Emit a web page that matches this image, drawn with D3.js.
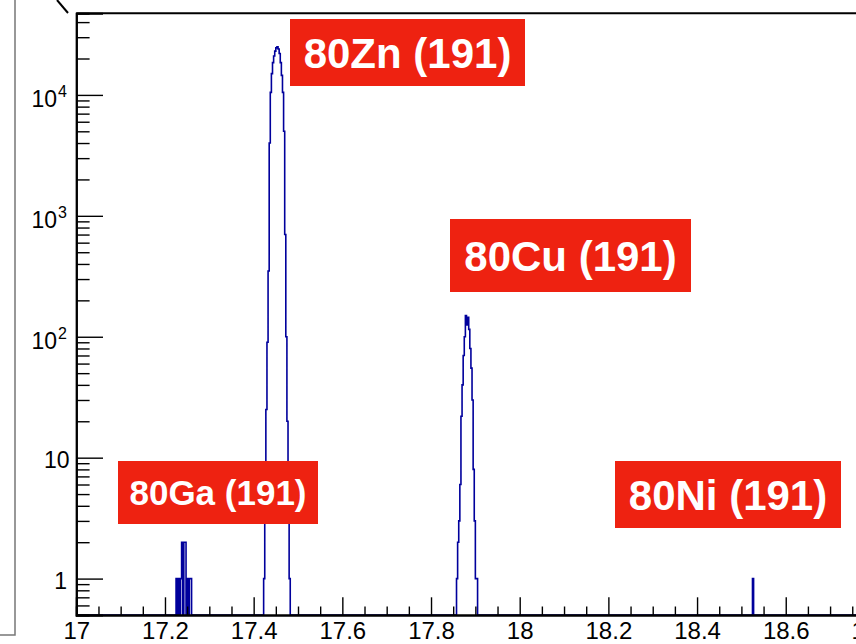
<!DOCTYPE html>
<html>
<head>
<meta charset="utf-8">
<script src="https://cdn.jsdelivr.net/npm/d3@7"></script>
<style>
  html, body { margin: 0; padding: 0; background: #fff; overflow: hidden; }
  svg { display: block; }
</style>
</head>
<body>
<svg id="chart" width="856" height="644"></svg>
<script>
// Histogram binning: fixed-width bins over [17, 19]
const binWidth = 0.0025;
const xStart = 17;
const xEnd = 19;

// Non-empty bins of each peak: first bin low edge and counts per bin
const gaStart = 17.225;
const gaCounts = [1, 0, 1, 0, 1, 2, 0, 2, 2, 0, 1, 0, 1, 1];
const znStart = 17.4225;
const znCounts = [1, 6, 25, 90, 350, 4000, 10500, 15000, 18500, 21000, 23000, 24500,
                  25000, 24000, 22000, 18500, 14500, 10500, 5000, 700, 100, 20, 5, 1];
const cuStart = 17.8575;
const cuCounts = [1, 2, 3, 6, 22, 40, 70, 100, 150, 125, 145, 115, 80, 55, 30, 8, 3, 1, 1];
const niStart = 18.525;
const niCounts = [1];

// Axis ticks
const xMajorTicks = [17, 17.2, 17.4, 17.6, 17.8, 18, 18.2, 18.4, 18.6, 18.8, 19];
const yDecades = [1, 10, 100, 1000, 10000];
const yMin = 0.5;
const yMax = 47300;

// Peak annotations
const labelTexts = ["80Zn (191)", "80Cu (191)", "80Ga (191)", "80Ni (191)"];

// Annotation box layout (pixels): left, top, right, bottom, font size
const labelLayout = [
  { x0: 290, y0: 19,  x1: 525, y1: 86,  fs: 42 },
  { x0: 450, y0: 219, x1: 691, y1: 292, fs: 42 },
  { x0: 118, y0: 461, x1: 318, y1: 524, fs: 35 },
  { x0: 615, y0: 461, x1: 841, y1: 528, fs: 42 }
];

const FONT = "'Liberation Sans', Arial, Helvetica, sans-serif";
const svg = d3.select("#chart");

const frame = { left: 76.3, top: 13.3, bottom: 615 };
const pxPerUnit = 443.4;
const x = d3.scaleLinear().domain([xStart, xEnd])
  .range([frame.left, frame.left + (xEnd - xStart) * pxPerUnit]);
const y = d3.scaleLog().domain([yMin, yMax]).range([frame.bottom, frame.top]);

// Fill the full bin array from the peak groups
const nBins = Math.round((xEnd - xStart) / binWidth);
const counts = new Array(nBins).fill(0);
[[gaStart, gaCounts], [znStart, znCounts], [cuStart, cuCounts], [niStart, niCounts]]
  .forEach(([start, arr]) => {
    const i0 = Math.round((start - xStart) / binWidth);
    arr.forEach((c, k) => { counts[i0 + k] = c; });
  });

// Step outline; empty bins drop to the bottom of the frame
const pts = counts.map((c, i) => [xStart + i * binWidth, Math.max(c, yMin)]);
pts.push([xEnd, Math.max(counts[nBins - 1], yMin)]);

svg.append("defs").append("clipPath").attr("id", "frameClip")
  .append("rect")
  .attr("x", frame.left).attr("y", frame.top)
  .attr("width", 1000).attr("height", frame.bottom - frame.top);

const line = d3.line()
  .x(d => x(d[0]))
  .y(d => y(d[1]))
  .curve(d3.curveStepAfter);

svg.append("path")
  .datum(pts)
  .attr("clip-path", "url(#frameClip)")
  .attr("d", line)
  .attr("fill", "none")
  .attr("stroke", "#00009c")
  .attr("stroke-width", 1.6);

// Outer pad border fragments at the left
svg.append("path")
  .attr("d", "M15,0 V635 H0")
  .attr("fill", "none").attr("stroke", "#777").attr("stroke-width", 1.5);
svg.append("line")
  .attr("x1", 57).attr("y1", 0).attr("x2", 68).attr("y2", 13)
  .attr("stroke", "#000").attr("stroke-width", 2);

// Frame top edge
svg.append("line")
  .attr("x1", frame.left).attr("x2", 900)
  .attr("y1", frame.top).attr("y2", frame.top)
  .attr("stroke", "#000").attr("stroke-width", 2);

// X axis: major and minor ticks pointing into the frame
const xMinorTicks = [];
for (let k = 0; k <= (xEnd - xStart) / 0.05 + 0.5; k++) {
  const v = +(xStart + k * 0.05).toFixed(2);
  if (!xMajorTicks.some(m => Math.abs(m - v) < 1e-6)) xMinorTicks.push(v);
}
const xAxisMinor = svg.append("g")
  .attr("transform", `translate(0,${frame.bottom})`)
  .call(d3.axisBottom(x).tickValues(xMinorTicks).tickSize(-8.5).tickFormat(""));
const xAxisMajor = svg.append("g")
  .attr("transform", `translate(0,${frame.bottom})`)
  .call(d3.axisBottom(x).tickValues(xMajorTicks).tickSize(-17.7).tickPadding(0)
    .tickFormat(d => Number.isInteger(d) ? String(d) : d.toFixed(1)));
[xAxisMinor, xAxisMajor].forEach(g => {
  g.select(".domain").attr("stroke", "#000").attr("stroke-width", 2);
  g.selectAll(".tick line").attr("stroke", "#000").attr("stroke-width", 1.4);
});
xAxisMajor.selectAll(".tick text")
  .attr("y", 24).attr("dy", 0)
  .attr("fill", "#000")
  .style("font-family", FONT).style("font-size", "24px");

// Y axis: log decades with minor ticks 2..9
const yMinorTicks = [];
[0.1, 1, 10, 100, 1000, 10000].forEach(dec => {
  for (let m = 2; m <= 9; m++) {
    const v = dec * m;
    if (v >= yMin - 1e-9 && v <= yMax) yMinorTicks.push(v);
  }
});
const yAxisMinor = svg.append("g")
  .attr("transform", `translate(${frame.left},0)`)
  .call(d3.axisLeft(y).tickValues(yMinorTicks).tickSize(-13.3).tickFormat(""));
const yAxisMajor = svg.append("g")
  .attr("transform", `translate(${frame.left},0)`)
  .call(d3.axisLeft(y).tickValues(yDecades).tickSize(-26.7).tickFormat(""));
[yAxisMinor, yAxisMajor].forEach(g => {
  g.select(".domain").attr("stroke", "#000").attr("stroke-width", 2);
  g.selectAll(".tick line").attr("stroke", "#000").attr("stroke-width", 1.4);
});

// Decade labels: plain for 1 and 10, base + exponent above
const yLab = svg.append("g")
  .style("font-family", FONT).attr("fill", "#000");
yDecades.forEach(v => {
  const exp = Math.round(Math.log10(v));
  const ty = y(v);
  if (exp <= 1) {
    yLab.append("text")
      .attr("x", exp === 0 ? 67 : 69.5).attr("y", ty + 10.8)
      .attr("text-anchor", "end")
      .style("font-size", "23px")
      .text(String(v));
  } else {
    yLab.append("text")
      .attr("x", 57).attr("y", ty + 12.5)
      .attr("text-anchor", "end")
      .style("font-size", "23px")
      .text("10");
    yLab.append("text")
      .attr("x", 58).attr("y", ty + 2)
      .style("font-size", "16px")
      .text(String(exp));
  }
});

// Peak annotation boxes
const ann = svg.append("g");
labelTexts.forEach((t, i) => {
  const b = labelLayout[i];
  ann.append("rect")
    .attr("x", b.x0).attr("y", b.y0)
    .attr("width", b.x1 - b.x0).attr("height", b.y1 - b.y0)
    .attr("fill", "#ee2211");
  ann.append("text")
    .attr("x", (b.x0 + b.x1) / 2)
    .attr("y", (b.y0 + b.y1) / 2 + 0.36 * b.fs)
    .attr("text-anchor", "middle")
    .attr("fill", "#fff")
    .style("font-family", FONT)
    .style("font-weight", "bold")
    .style("font-size", b.fs + "px")
    .text(t);
});
</script>
</body>
</html>
